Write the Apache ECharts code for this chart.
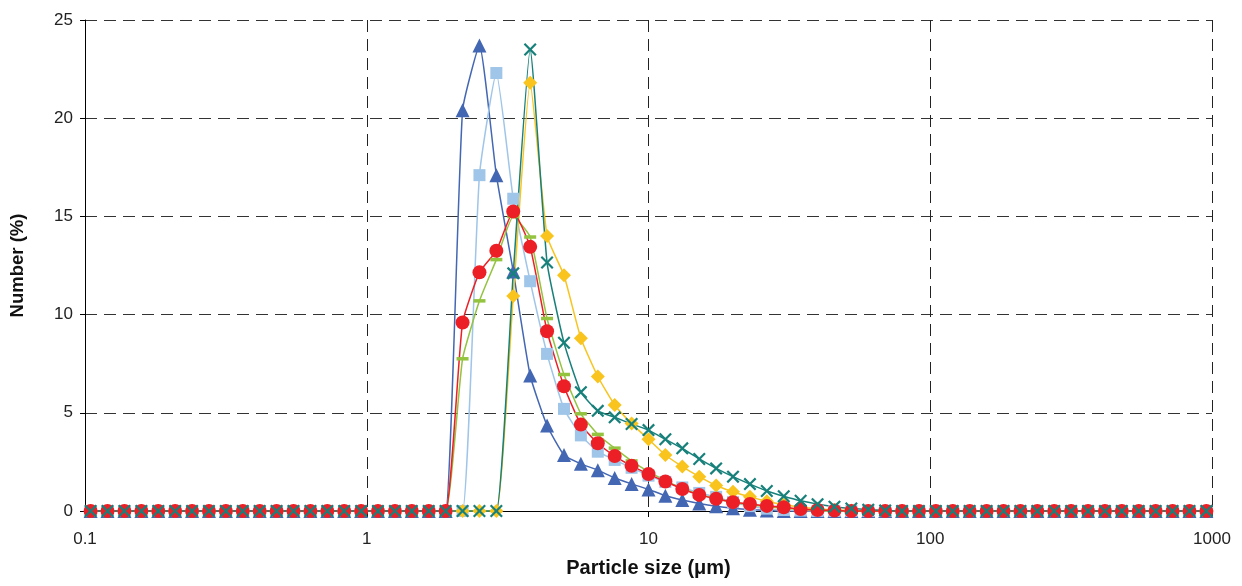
<!DOCTYPE html>
<html>
<head>
<meta charset="utf-8">
<script src="https://cdn.jsdelivr.net/npm/echarts@6/dist/echarts.min.js"></script>
<style>
html,body{margin:0;padding:0;background:#fff;}
#chart{width:1242px;height:586px;}
</style>
</head>
<body>
<div id="chart"></div>
<script>
// Particle size classes (µm)
const sizes = [0.1047,0.1202,0.1380,0.1585,0.1820,0.2089,0.2399,0.2754,0.3162,0.3631,0.4169,0.4786,0.5495,0.6310,0.7244,0.8318,0.9550,
1.096,1.259,1.445,1.660,1.905,2.188,2.512,2.884,3.311,3.802,4.365,5.012,5.754,6.607,7.586,8.710,
10.00,11.48,13.18,15.14,17.38,19.95,22.91,26.30,30.20,34.67,39.81,45.71,52.48,60.26,69.18,79.43,91.20,
104.7,120.2,138.0,158.5,182.0,208.9,239.9,275.4,316.2,363.1,416.9,478.6,549.5,631.0,724.4,831.8,955.0];

const seriesTriangle = [0,0,0,0,0,0,0,0,0,0,0,0,0,0,0,0,0,0,0,0,0,0,
20.4,23.7,17.1,12.2,6.9,4.35,2.85,2.4,2.08,1.68,1.38,1.1,0.78,0.56,0.38,0.24,0.14,0.07,0.03,
0,0,0,0,0,0,0,0,0,0,0,0,0,0,0,0,0,0,0,0,0,0,0,0,0,0];

const seriesSquare = [0,0,0,0,0,0,0,0,0,0,0,0,0,0,0,0,0,0,0,0,0,0,0,
17.1,22.3,15.9,11.7,8.0,5.2,3.85,3.02,2.6,2.2,1.8,1.48,1.2,0.92,0.72,0.45,0.25,0.12,0.05,0.02,
0,0,0,0,0,0,0,0,0,0,0,0,0,0,0,0,0,0,0,0,0,0,0,0];

const seriesCircle = [0,0,0,0,0,0,0,0,0,0,0,0,0,0,0,0,0,0,0,0,0,0,
9.6,12.15,13.25,15.25,13.45,9.15,6.35,4.4,3.45,2.8,2.3,1.88,1.5,1.12,0.82,0.62,0.45,0.36,0.26,0.19,0.1,0.05,0.02,
0,0,0,0,0,0,0,0,0,0,0,0,0,0,0,0,0,0,0,0,0,0];

const seriesDash = [0,0,0,0,0,0,0,0,0,0,0,0,0,0,0,0,0,0,0,0,0,0,
7.75,10.7,12.8,15.0,13.95,9.8,6.95,4.95,3.9,3.2,2.55,2.0,1.55,1.15,0.85,0.62,0.45,0.32,0.22,0.14,0.08,0.03,
0,0,0,0,0,0,0,0,0,0,0,0,0,0,0,0,0,0,0,0,0,0,0];

const seriesDiamond = [0,0,0,0,0,0,0,0,0,0,0,0,0,0,0,0,0,0,0,0,0,0,0,0,0,
10.95,21.8,14.0,12.0,8.8,6.85,5.4,4.45,3.65,2.85,2.26,1.75,1.3,0.98,0.72,0.5,0.33,0.2,0.11,0.05,0.02,
0,0,0,0,0,0,0,0,0,0,0,0,0,0,0,0,0,0,0,0,0];

const seriesCross = [0,0,0,0,0,0,0,0,0,0,0,0,0,0,0,0,0,0,0,0,0,0,0,0,0,
12.1,23.5,12.65,8.57,6.05,5.1,4.77,4.43,4.12,3.65,3.19,2.65,2.17,1.75,1.37,1.02,0.75,0.52,0.35,0.22,0.13,0.07,0.03,
0,0,0,0,0,0,0,0,0,0,0,0,0,0,0,0,0,0,0];

const xTickLabels = ['0.1','1','10','100','1000'];
const yTicks = [0,5,10,15,20,25];

const pair = arr => sizes.map((s,i)=>[s, arr[i]]);
const crossPath = 'path://M0,1.2 L1.2,0 L5,3.8 L8.8,0 L10,1.2 L6.2,5 L10,8.8 L8.8,10 L5,6.2 L1.2,10 L0,8.8 L3.8,5 Z';

function mk(name, data, color, symbol, size){
  return {
    name, type:'line', data: pair(data), smooth:0.15,
    symbol, symbolSize:size, showSymbol:true,
    lineStyle:{color, width:1.5},
    itemStyle:{color},
    clip:false,
    emphasis:{disabled:true}
  };
}

const FONT = 'Liberation Sans, Arial, sans-serif';
const chart = echarts.init(document.getElementById('chart'), null, {renderer:'canvas'});
chart.setOption({
  animation:false,
  backgroundColor:'#fff',
  grid:{left:84, right:30, top:20, bottom:75, containLabel:false},
  xAxis:{
    type:'log', logBase:10, min:0.1, max:1000,
    name:'Particle size (μm)', nameLocation:'middle', nameGap:47,
    nameTextStyle:{fontFamily:FONT, fontWeight:'bold', fontSize:20, color:'#111'},
    axisLine:{show:true, onZero:false, lineStyle:{color:'#000', width:1}},
    axisTick:{show:true, length:6, lineStyle:{color:'#000'}},
    axisLabel:{margin:20, fontFamily:FONT, fontSize:17, color:'#222',
      formatter: v => { const i = Math.round(Math.log10(v))+1; return xTickLabels[i] !== undefined ? xTickLabels[i] : ''; }},
    splitLine:{show:true, lineStyle:{color:'#222', width:1, type:[12,7]}},
    minorTick:{show:false}
  },
  yAxis:{
    type:'value', min:0, max:25, interval:5,
    name:'Number (%)', nameLocation:'middle', nameGap:58,
    nameTextStyle:{fontFamily:FONT, fontWeight:'bold', fontSize:18.5, color:'#111'},
    axisLine:{show:true, lineStyle:{color:'#000', width:1}},
    axisTick:{show:true, length:5, lineStyle:{color:'#000'}},
    axisLabel:{margin:12, fontFamily:FONT, fontSize:17, color:'#222',
      formatter: v => yTicks.includes(v) ? String(v) : ''},
    splitLine:{show:true, lineStyle:{color:'#333', width:1, type:[12,7]}}
  },
  series:[
    mk('A', seriesTriangle, '#4467b3', 'triangle', 14),
    mk('B', seriesSquare, '#9fc5e8', 'rect', 12),
    mk('E', seriesDiamond, '#f8c41d', 'diamond', 14),
    mk('C', seriesDash, '#93c33f', 'rect', [12,3.5]),
    mk('D', seriesCircle, '#ec1f26', 'circle', 14),
    mk('F', seriesCross, '#17807a', crossPath, 13)
  ]
});
</script>
</body>
</html>
